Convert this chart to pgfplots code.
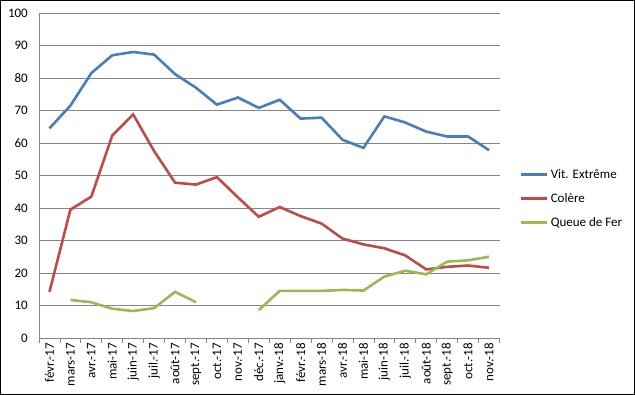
\documentclass[border=0pt]{standalone}
\usepackage{fontspec}
\setmainfont{Carlito}
\usepackage{pgfplots}
\pgfplotsset{compat=1.18}
\definecolor{cblue}{RGB}{74,126,187}
\definecolor{cred}{RGB}{190,75,72}
\definecolor{cgreen}{RGB}{152,185,84}
\definecolor{cgrid}{RGB}{134,134,134}
\begin{document}
\begin{tikzpicture}
\begin{axis}[
  scale only axis,
  width=460.5bp, height=325bp,
  xmin=-0.5, xmax=21.5, ymin=0, ymax=100,
  axis x line*=bottom, axis y line*=left,
  axis line style={draw=cgrid, line width=0.8bp},
  ymajorgrids, grid style={draw=cgrid, line width=0.8bp},
  ytick={0,10,...,100},
  xtick={0,...,21},
  xticklabels={févr.-17,mars-17,avr.-17,mai-17,juin-17,juil.-17,août-17,sept.-17,oct.-17,nov.-17,déc.-17,janv.-18,févr.-18,mars-18,avr.-18,mai-18,juin-18,juil.-18,août-18,sept.-18,oct.-18,nov.-18},
  minor xtick={-0.5,0.5,...,21.5},
  major tick length=0pt,
  minor tick length=5bp,
  tick align=outside,
  minor tick style={draw=cgrid, line width=0.8bp},
  /pgf/number format/assume math mode=true,
  tick label style={font=\fontsize{13bp}{15bp}\selectfont, inner sep=0pt},
  yticklabel style={anchor=east, xshift=-11bp},
  xticklabel style={rotate=90, anchor=east, xshift=-5bp},
  unbounded coords=jump,
  legend cell align=left,
  legend style={at={(rel axis cs:1.038,0.525)}, anchor=north west, draw=none, fill=none,
    font=\fontsize{13bp}{15bp}\selectfont, nodes={inner sep=0pt}, row sep=13.5bp, column sep=2bp},
  legend image code/.code={\draw[#1] (0bp,0bp) -- (26bp,0bp);},
]
\addplot[cblue, line width=2.6bp] coordinates {
(0,64.5) (1,71.5) (2,81.5) (3,87) (4,88) (5,87.2) (6,81.2) (7,77) (8,71.8) (9,74) (10,70.8)
(11,73.3) (12,67.5) (13,67.8) (14,61) (15,58.5) (16,68.2) (17,66.3) (18,63.5) (19,62) (20,62) (21,57.8)};
\addlegendentry{Vit. Extrême}
\addplot[cred, line width=2.6bp] coordinates {
(0,14.2) (1,39.5) (2,43.5) (3,62.3) (4,68.8) (5,57.5) (6,47.8) (7,47.2) (8,49.5) (9,43.3) (10,37.3)
(11,40.3) (12,37.5) (13,35.2) (14,30.6) (15,28.8) (16,27.6) (17,25.4) (18,21.1) (19,21.9) (20,22.3) (21,21.6)};
\addlegendentry{Colère}
\addplot[cgreen, line width=2.6bp] coordinates {
(0,nan) (1,11.7) (2,11) (3,9) (4,8.3) (5,9.2) (6,14.2) (7,11) (8,nan) (9,nan) (10,8.6)
(11,14.5) (12,14.5) (13,14.5) (14,14.8) (15,14.6) (16,18.9) (17,20.7) (18,19.6) (19,23.5) (20,23.9) (21,25)};
\addlegendentry{Queue de Fer}
\end{axis}
\draw[line width=1bp, black] (-38.5bp,-56.5bp) rectangle (595.5bp,337.5bp);
\end{tikzpicture}
\end{document}
